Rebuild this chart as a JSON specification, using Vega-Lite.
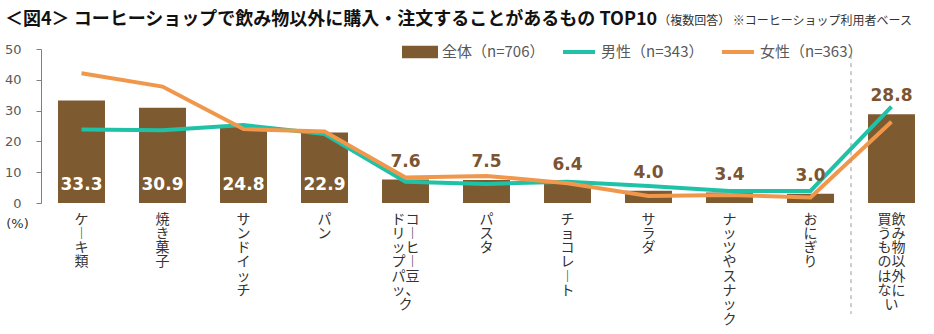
{
  "$schema": "https://vega.github.io/schema/vega-lite/v6.json",
  "width": 891,
  "height": 154,
  "autosize": {"type": "none"},
  "padding": {"left": 41, "top": 49, "right": 2, "bottom": 131},
  "background": "white",
  "title": {
    "text": "＜図4＞ コーヒーショップで飲み物以外に購入・注文することがあるもの TOP10",
    "anchor": "start",
    "frame": "group",
    "dx": -36,
    "offset": -14,
    "font": "Noto Sans CJK JP",
    "fontSize": 18,
    "fontWeight": "bold",
    "color": "#111111"
  },
  "config": {
    "view": {"stroke": null},
    "legend": {
      "orient": "none",
      "legendX": 361,
      "legendY": -15,
      "direction": "horizontal",
      "title": null,
      "labelFont": "Noto Sans CJK JP",
      "labelFontSize": 15,
      "labelColor": "#595959",
      "symbolSize": 1024,
      "labelOffset": 4,
      "columnPadding": 10,
      "gridAlign": "none"
    }
  },
  "data": {
    "values": [
      {"cat": "ケーキ類", "group": "全体（n=706）", "value": 33.3},
      {"cat": "焼き菓子", "group": "全体（n=706）", "value": 30.9},
      {"cat": "サンドイッチ", "group": "全体（n=706）", "value": 24.8},
      {"cat": "パン", "group": "全体（n=706）", "value": 22.9},
      {"cat": "コーヒー豆、ドリップパック", "group": "全体（n=706）", "value": 7.6},
      {"cat": "パスタ", "group": "全体（n=706）", "value": 7.5},
      {"cat": "チョコレート", "group": "全体（n=706）", "value": 6.4},
      {"cat": "サラダ", "group": "全体（n=706）", "value": 4.0},
      {"cat": "ナッツやスナック", "group": "全体（n=706）", "value": 3.4},
      {"cat": "おにぎり", "group": "全体（n=706）", "value": 3.0},
      {"cat": "飲み物以外に買うものはない", "group": "全体（n=706）", "value": 28.8},
      {"cat": "ケーキ類", "group": "男性（n=343）", "value": 23.9},
      {"cat": "焼き菓子", "group": "男性（n=343）", "value": 23.6},
      {"cat": "サンドイッチ", "group": "男性（n=343）", "value": 25.3},
      {"cat": "パン", "group": "男性（n=343）", "value": 22.4},
      {"cat": "コーヒー豆、ドリップパック", "group": "男性（n=343）", "value": 6.9},
      {"cat": "パスタ", "group": "男性（n=343）", "value": 6.2},
      {"cat": "チョコレート", "group": "男性（n=343）", "value": 6.9},
      {"cat": "サラダ", "group": "男性（n=343）", "value": 5.5},
      {"cat": "ナッツやスナック", "group": "男性（n=343）", "value": 3.9},
      {"cat": "おにぎり", "group": "男性（n=343）", "value": 3.9},
      {"cat": "飲み物以外に買うものはない", "group": "男性（n=343）", "value": 31.3},
      {"cat": "ケーキ類", "group": "女性（n=363）", "value": 42.1},
      {"cat": "焼き菓子", "group": "女性（n=363）", "value": 37.8},
      {"cat": "サンドイッチ", "group": "女性（n=363）", "value": 24.0},
      {"cat": "パン", "group": "女性（n=363）", "value": 23.2},
      {"cat": "コーヒー豆、ドリップパック", "group": "女性（n=363）", "value": 8.3},
      {"cat": "パスタ", "group": "女性（n=363）", "value": 8.8},
      {"cat": "チョコレート", "group": "女性（n=363）", "value": 6.4},
      {"cat": "サラダ", "group": "女性（n=363）", "value": 2.3},
      {"cat": "ナッツやスナック", "group": "女性（n=363）", "value": 2.6},
      {"cat": "おにぎり", "group": "女性（n=363）", "value": 1.8},
      {"cat": "飲み物以外に買うものはない", "group": "女性（n=363）", "value": 26.4}
    ]
  },
  "encoding": {
    "x": {
      "field": "cat",
      "type": "nominal",
      "sort": ["ケーキ類", "焼き菓子", "サンドイッチ", "パン", "コーヒー豆、ドリップパック", "パスタ", "チョコレート", "サラダ", "ナッツやスナック", "おにぎり", "飲み物以外に買うものはない"],
      "scale": {"paddingInner": 0, "paddingOuter": 0},
      "axis": {
        "title": null,
        "domain": false,
        "ticks": false,
        "labelAngle": 0,
        "labelFont": "Noto Sans CJK JP",
        "labelFontSize": 14,
        "labelLineHeight": 14.3,
        "labelColor": "#333333",
        "labelBaseline": "top",
        "labelPadding": 9,
        "labelLimit": 0,
        "labelOverlap": false,
        "labelExpr": "datum.label === 'コーヒー豆、ドリップパック' ? ['ドコ', 'リ︱', 'ッヒ', 'プ︱', 'パ豆', 'ッ、', 'ク　'] : datum.label === '飲み物以外に買うものはない' ? ['買飲', 'うみ', 'も物', 'の以', 'は外', 'なに', 'い　'] : split(replace(datum.label, regexp('ー', 'g'), '︱'), '')"
      }
    },
    "y": {
      "field": "value",
      "type": "quantitative",
      "scale": {"domain": [0, 50], "nice": false},
      "axis": {
        "values": [0, 10, 20, 30, 40, 50],
        "labelOverlap": false,
        "grid": false,
        "domainColor": "#7f7f7f",
        "tickColor": "#7f7f7f",
        "tickSize": 5,
        "labelFont": "DejaVu Sans",
        "labelFontSize": 13,
        "labelColor": "#595959",
        "labelPadding": 15,
        "title": "(%)",
        "titleAngle": 0,
        "titleX": -24,
        "titleY": 174,
        "titleAlign": "center",
        "titleBaseline": "middle",
        "titleFont": "DejaVu Sans",
        "titleFontSize": 13,
        "titleFontWeight": "normal",
        "titleColor": "#333333"
      }
    }
  },
  "layer": [
    {
      "transform": [{"filter": "datum.group === '全体（n=706）'"}],
      "mark": {"type": "bar", "width": {"band": 0.58}},
      "encoding": {
        "color": {
          "field": "group",
          "type": "nominal",
          "scale": {
            "domain": ["全体（n=706）", "男性（n=343）", "女性（n=363）"],
            "range": ["#7E5A30", "#1FC2A6", "#F0974C"]
          },
          "legend": {
            "encode": {
              "symbols": {
                "update": {
                  "shape": {"signal": "datum.value === '全体（n=706）' ? 'M-1,-0.26H1V0.26H-1Z' : 'M-1,0H1'"},
                  "fill": {"signal": "datum.value === '全体（n=706）' ? '#7E5A30' : 'transparent'"},
                  "stroke": {"signal": "datum.value === '全体（n=706）' ? 'transparent' : (datum.value === '男性（n=343）' ? '#1FC2A6' : '#F0974C')"},
                  "strokeWidth": {"value": 4},
                  "opacity": {"value": 1}
                }
              }
            }
          }
        }
      }
    },
    {
      "transform": [{"filter": "datum.group !== '全体（n=706）'"}],
      "mark": {"type": "line", "strokeWidth": 4},
      "encoding": {
        "color": {"field": "group", "type": "nominal"},
        "order": {"value": null}
      }
    },
    {
      "transform": [
        {"filter": "datum.group === '全体（n=706）'"},
        {"filter": "indexof(['ケーキ類', '焼き菓子', 'サンドイッチ', 'パン'], datum.cat) >= 0"}
      ],
      "mark": {"type": "text", "baseline": "alphabetic", "dy": -13, "font": "DejaVu Sans", "fontSize": 17, "fontWeight": "bold", "color": "white"},
      "encoding": {
        "y": {"datum": 0},
        "text": {"field": "value", "type": "quantitative", "format": ".1f"}
      }
    },
    {
      "transform": [
        {"filter": "datum.group === '全体（n=706）'"},
        {"filter": "indexof(['ケーキ類', '焼き菓子', 'サンドイッチ', 'パン'], datum.cat) < 0"}
      ],
      "mark": {"type": "text", "baseline": "alphabetic", "dy": -13, "font": "DejaVu Sans", "fontSize": 17, "fontWeight": "bold", "color": "#7B5531"},
      "encoding": {
        "text": {"field": "value", "type": "quantitative", "format": ".1f"}
      }
    },
    {
      "transform": [
        {"filter": "datum.group === '全体（n=706）' && datum.cat === '飲み物以外に買うものはない'"}
      ],
      "mark": {"type": "rule", "color": "#9a9a9a", "strokeWidth": 1, "strokeDash": [4, 4]},
      "encoding": {
        "x": {"field": "cat", "type": "nominal", "bandPosition": 0},
        "y": {"datum": 48},
        "y2": {"datum": -36}
      }
    },
    {
      "transform": [
        {"filter": "datum.group === '全体（n=706）' && datum.cat === '飲み物以外に買うものはない'"}
      ],
      "mark": {"type": "text", "align": "right", "baseline": "alphabetic", "dx": -20, "font": "Noto Sans CJK JP", "fontSize": 12, "color": "#333333"},
      "encoding": {
        "x": {"field": "cat", "type": "nominal", "bandPosition": 1},
        "y": {"datum": 57.8},
        "text": {"value": "（複数回答） ※コーヒーショップ利用者ベース"}
      }
    }
  ]
}
